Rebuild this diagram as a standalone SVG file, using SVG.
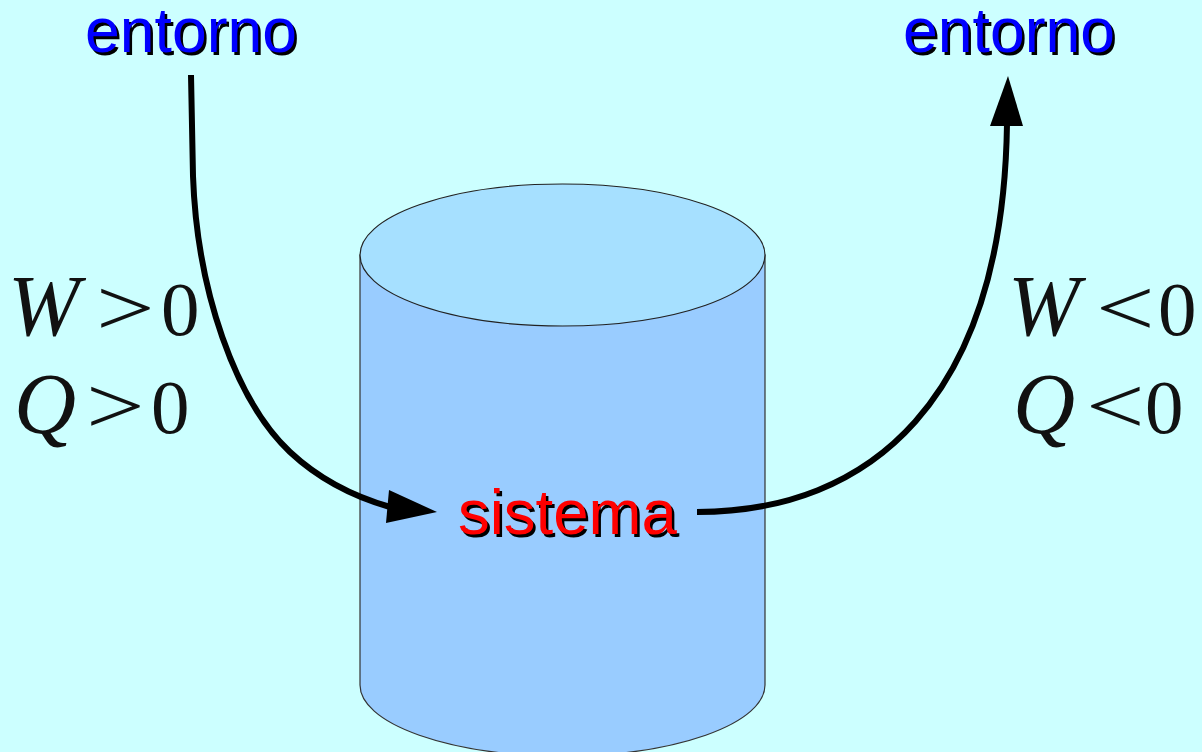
<svg xmlns="http://www.w3.org/2000/svg" width="1202" height="752" viewBox="0 0 1202 752">
<style>
.lbl{font-family:"Liberation Sans",Arial,sans-serif;}
.math{font-family:"Liberation Serif","Times New Roman",serif;fill:#111;}
.var{font-style:italic;font-size:86px;}
.num{font-size:77px;}
.rel{font-size:80px;}
.flow{fill:none;stroke:#000;stroke-width:6;}
</style>
<rect x="0" y="0" width="1202" height="752" fill="#ccffff"/>
<g id="sistema">
<path d="M360,255 L360,685 A202.5,71 0 0 0 765,685 L765,255 Z" fill="#99ccff" stroke="#333" stroke-width="1.2"/>
<ellipse cx="562.5" cy="255" rx="202.5" ry="71" fill="#a6e0ff" stroke="#222" stroke-width="1.2"/>
<text class="lbl" x="460.5" y="536.5" font-size="63.5" fill="#000">sistema</text>
<text class="lbl" x="458" y="534" font-size="63.5" fill="#ff0000">sistema</text>
</g>
<g id="entorno-left">
<text class="lbl" x="87.5" y="54.5" font-size="62.5" fill="#000">entorno</text>
<text class="lbl" x="85" y="52" font-size="62.5" fill="#0000ff">entorno</text>
</g>
<g id="entorno-right">
<text class="lbl" x="905.5" y="54.5" font-size="62.5" fill="#000">entorno</text>
<text class="lbl" x="903" y="52" font-size="62.5" fill="#0000ff">entorno</text>
</g>
<g id="cond-left">
<text class="math var" x="8" y="335">W</text>
<text class="math rel" transform="translate(96,335) scale(1.3,1)" x="0" y="0">&gt;</text>
<text class="math num" x="161" y="335">0</text>
<text class="math var" x="14" y="433">Q</text>
<text class="math rel" transform="translate(86,433) scale(1.3,1)" x="0" y="0">&gt;</text>
<text class="math num" x="151" y="433">0</text>
</g>
<g id="cond-right">
<text class="math var" x="1008" y="335">W</text>
<text class="math rel" transform="translate(1096,335) scale(1.3,1)" x="0" y="0">&lt;</text>
<text class="math num" x="1158" y="335">0</text>
<text class="math var" x="1013" y="433">Q</text>
<text class="math rel" transform="translate(1086,433) scale(1.3,1)" x="0" y="0">&lt;</text>
<text class="math num" x="1145" y="433">0</text>
</g>
<g id="connectors">
<path class="flow" d="M191,75 L193,176 C197,290 235,400 290,452 C320,480 355,497 390,507"/>
<polygon points="437,512 389,490 386,523" fill="#000"/>
<path class="flow" d="M697,512 C870,512 1003,400 1007,124"/>
<polygon points="1008,76 990,126 1023,126" fill="#000"/>
</g>
</svg>
